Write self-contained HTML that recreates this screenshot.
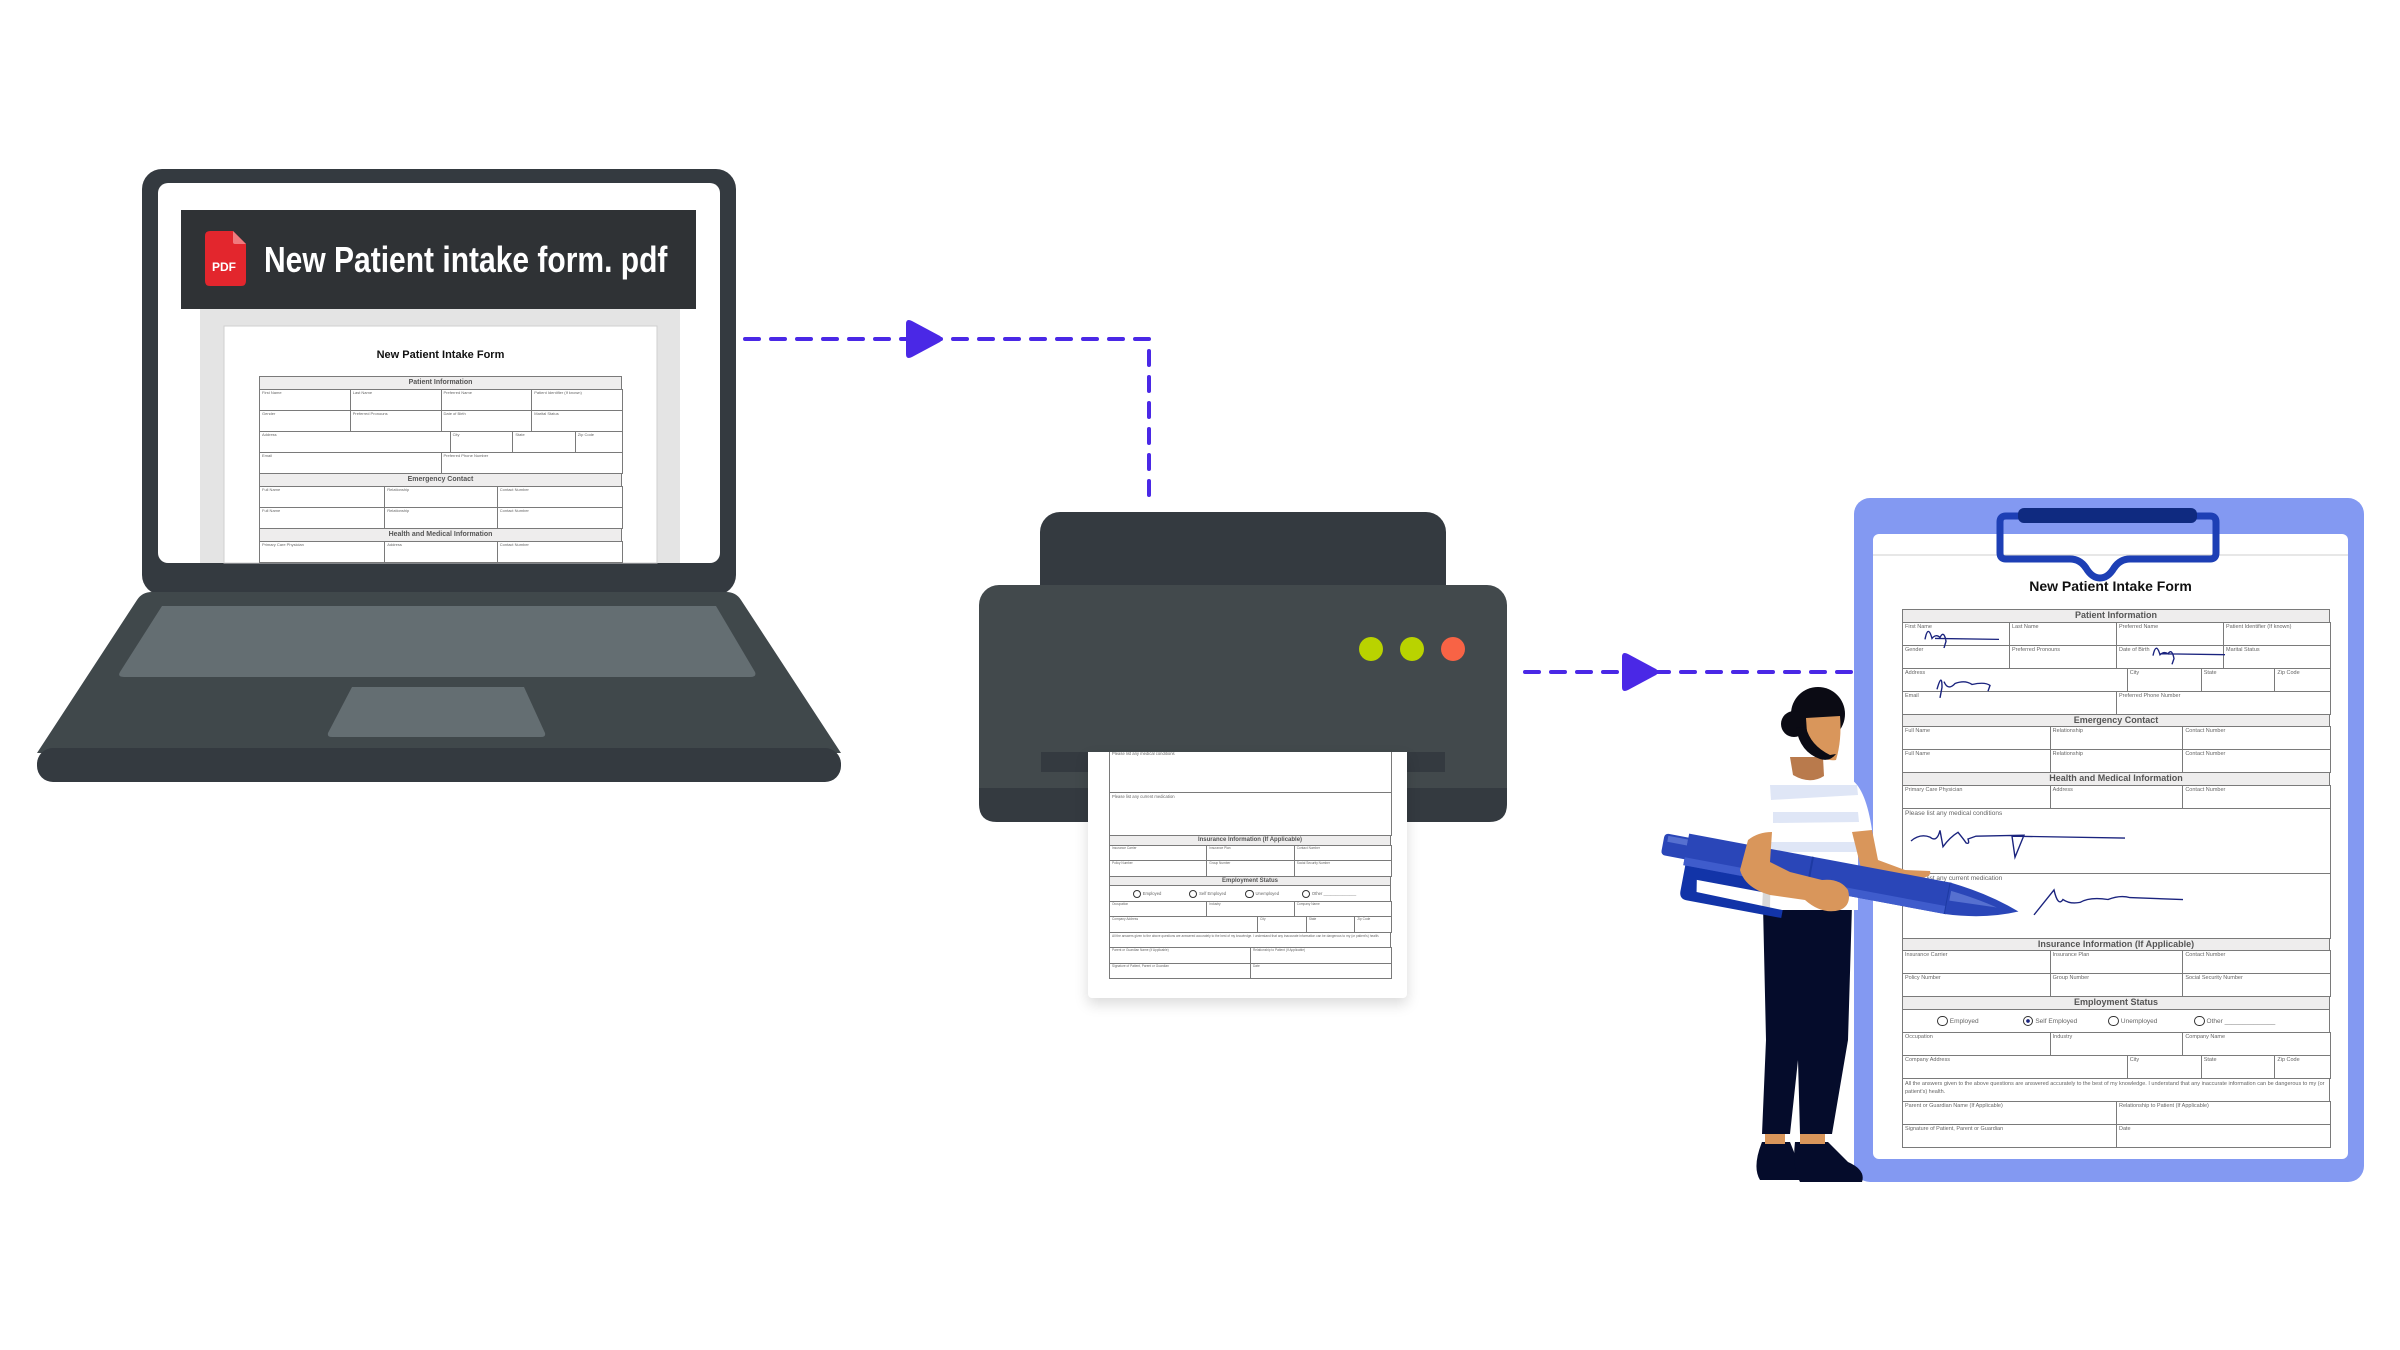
<!DOCTYPE html>
<html><head><meta charset="utf-8">
<style>
html,body{margin:0;padding:0;background:#fff;}
#root{position:relative;width:2400px;height:1350px;overflow:hidden;background:#fff;font-family:"Liberation Sans",sans-serif;}
.abs{position:absolute;}
.form{position:absolute;}
.cell{position:absolute;box-sizing:border-box;border:1px solid #7a7a7a;color:#666;overflow:hidden;white-space:nowrap;}
.hd{position:absolute;box-sizing:border-box;border:1px solid #7a7a7a;background:#eeeded;color:#555;font-weight:bold;text-align:center;overflow:hidden;white-space:nowrap;}
</style></head><body>
<div id="root">
<svg class="abs" style="left:0;top:0" width="2400" height="1350" viewBox="0 0 2400 1350">
  <!-- laptop lid -->
  <rect x="142" y="169" width="594" height="426" rx="20" fill="#343a40"/>
  <rect x="158" y="183" width="562" height="380" rx="10" fill="#ffffff"/>
  <rect x="200" y="309" width="480" height="254" fill="#e4e4e4"/>
  <rect x="224" y="326" width="433" height="237" fill="#ffffff" stroke="#cfcfcf"/>
  <!-- base -->
  <path d="M152 592 L726 592 Q736 592 741 600 L841 753 L37 753 L137 600 Q142 592 152 592Z" fill="#40484b"/>
  <rect x="37" y="748" width="804" height="34" rx="16" fill="#343a40"/>
  <path d="M162 606 L716 606 L755 672 Q757 677 750 677 L124 677 Q117 677 120 672Z" fill="#646e72"/>
  <path d="M352 687 L524 687 L545 733 Q546 737 541 737 L332 737 Q327 737 328 733Z" fill="#646e72"/>
  <!-- dashed connectors -->
  <g stroke="#4a28e6" stroke-width="4" fill="none" stroke-dasharray="14 12" stroke-linecap="round">
    <path d="M745 339 L1149 339 L1149 499"/>
    <path d="M1525 672 L1860 672"/>
  </g>
  <path d="M906 324 Q906 318 912 321 L940 336 Q944 339 940 342 L912 357 Q906 360 906 354Z" fill="#4a28e6"/>
  <path d="M1622 657 Q1622 651 1628 654 L1656 669 Q1660 672 1656 675 L1628 690 Q1622 693 1622 687Z" fill="#4a28e6"/>
  <!-- printer -->
  <rect x="1040" y="512" width="406" height="100" rx="20" fill="#343a40"/>
  <rect x="979" y="585" width="528" height="237" rx="20" fill="#42494c"/>
  <path d="M979 788 L1507 788 L1507 804 Q1507 822 1489 822 L997 822 Q979 822 979 804Z" fill="#343a40"/>
  <rect x="1041" y="752" width="404" height="20" fill="#343a40"/>
  <circle cx="1371" cy="649" r="12" fill="#b9d300"/>
  <circle cx="1412" cy="649" r="12" fill="#b9d300"/>
  <circle cx="1453" cy="649" r="12" fill="#f86345"/>
  <!-- clipboard -->
  <rect x="1854" y="498" width="510" height="684" rx="16" fill="#8399f2"/>
  <rect x="1873" y="534" width="475" height="625" rx="6" fill="#ffffff"/>
  <line x1="1873" y1="555" x2="2348" y2="555" stroke="#cfcfcf" stroke-width="1"/>
</svg>

<!-- laptop header -->
<div class="abs" style="left:181px;top:210px;width:515px;height:99px;background:#2f3235;"></div>
<svg class="abs" style="left:205px;top:231px" width="41" height="55" viewBox="0 0 41 55">
  <path d="M5 0 L28 0 L41 13 L41 50 Q41 55 36 55 L5 55 Q0 55 0 50 L0 5 Q0 0 5 0Z" fill="#e3262d"/>
  <path d="M28 0 L28 11 Q28 13 30 13 L41 13Z" fill="#f07a7e"/>
  <text x="19" y="40" font-family="Liberation Sans" font-weight="bold" font-size="12" fill="#fff" text-anchor="middle">PDF</text>
</svg>
<div class="abs" style="left:264px;top:241px;font-size:30px;font-weight:bold;color:#fff;white-space:nowrap;line-height:40px;transform:scale(1,1.2);transform-origin:0 50%;">New Patient intake form. pdf</div>

<!-- laptop form -->
<div class="abs" style="left:224px;top:326px;width:433px;height:237px;overflow:hidden;">
  <div class="abs" style="left:0;top:23px;width:433px;text-align:center;font-size:11px;font-weight:bold;color:#111;">New Patient Intake Form</div>
  <div id="f1" class="form" style="left:35px;top:50px;width:363px;"></div>
</div>

<!-- printer paper -->
<div class="abs" style="left:1088px;top:752px;width:319px;height:246px;background:#fff;border-radius:0 0 4px 4px;box-shadow:0 6px 14px rgba(0,0,0,0.15);overflow:hidden;">
  <div id="f2" class="form" style="left:21px;top:-140px;width:282px;"></div>
</div>

<!-- clipboard form -->
<div class="abs" style="left:1873px;top:578px;width:475px;text-align:center;font-size:14px;font-weight:bold;color:#111;">New Patient Intake Form</div>
<div id="f3" class="form" style="left:1902px;top:609px;width:428px;"></div>

<svg class="abs" style="left:0;top:0" width="2400" height="1350" viewBox="0 0 2400 1350">
  <!-- clip -->
  <path d="M2006 516 L2210 516 Q2216 516 2216 522 L2216 553 Q2216 559 2210 559 L2130 559 Q2120 559 2114 568 Q2108 578 2100 578 Q2092 578 2086 568 Q2080 559 2070 559 L2006 559 Q2000 559 2000 553 L2000 522 Q2000 516 2006 516Z" fill="none" stroke="#1d3fb5" stroke-width="7"/>
  <rect x="2018" y="508" width="179" height="15" rx="6" fill="#0f2a80"/>
  <!-- signatures -->
  <g fill="none" stroke="#1a237e" stroke-width="1.4" transform="translate(0,19.2) scale(1,0.96)">
    <path d="M1925 646 Q1928 630 1932 645 Q1936 640 1940 644 Q1944 636 1946 648 L1944 655 M1935 645 L1999 646"/>
    <path d="M2153 663 Q2156 648 2160 662 Q2164 658 2168 661 Q2172 655 2174 666 L2172 672 M2160 661 L2225 662"/>
    <path d="M1937 698 Q1942 680 1942 696 L1940 707 M1944 690 Q1948 700 1955 692 Q1965 688 1972 693 Q1985 690 1990 694 L1988 700"/>
    <path d="M1911 856 Q1920 848 1930 852 Q1937 858 1940 845 L1943 862 Q1950 852 1958 847 Q1965 856 1966 858 Q1970 860 1968 854 L1976 851 L2024 850 L2015 873 L2012 851 L2125 853"/>
    <path d="M2034 933 L2054 907 Q2058 925 2063 917 Q2070 922 2080 920 Q2090 914 2108 917 Q2120 912 2130 915 L2183 917"/>
  </g>
  <!-- person -->
  <path d="M1762 1142 L1790 1142 L1798 1162 Q1810 1170 1808 1180 L1760 1180 Q1752 1167 1762 1142Z" fill="#050c2b"/>
  <path d="M1795 1142 L1828 1142 L1848 1162 Q1866 1170 1862 1182 L1800 1182 Q1792 1167 1795 1142Z" fill="#050c2b"/>
  <rect x="1765" y="1130" width="20" height="14" fill="#d9965b"/>
  <rect x="1800" y="1130" width="25" height="14" fill="#d9965b"/>
  <path d="M1763 905 L1852 905 L1848 1040 L1832 1134 L1800 1134 L1798 1060 L1790 1134 L1762 1134 L1766 1040Z" fill="#050c2b"/>
  <path d="M1790 780 L1852 780 Q1866 790 1872 830 L1873 850 L1858 852 L1858 910 L1768 910 L1765 850 Q1765 800 1790 780Z" fill="#ffffff"/>
  <path d="M1770 785 L1857 785 L1858 795 L1771 800Z" fill="#dfe6f6"/>
  <path d="M1773 812 L1858 812 L1859 822 L1773 823Z" fill="#dfe6f6"/>
  <path d="M1771 842 L1858 842 L1858 852 L1770 852Z" fill="#dfe6f6"/>
  <path d="M1765 850 L1771 850 L1770 910 L1762 910Z" fill="#d8d8d8"/>
  <path d="M1790 757 L1823 757 L1824 776 Q1810 785 1793 775Z" fill="#b97a4c"/>
  <circle cx="1818" cy="714" r="27" fill="#0b0b14"/>
  <circle cx="1794" cy="724" r="13" fill="#0b0b14"/>
  <path d="M1806 718 L1840 716 Q1842 740 1836 760 Q1822 762 1808 748Z" fill="#d9965b"/>
  <path d="M1796 728 L1806 727 Q1810 745 1830 755 L1836 754 Q1830 762 1820 759 Q1800 752 1796 728Z" fill="#0b0b14"/>
  <path d="M1852 832 L1872 830 L1878 860 L1905 870 L1930 871 Q1932 877 1920 878 L1895 880 L1862 872Z" fill="#d9965b"/>
  <g transform="translate(1663,843) rotate(10.6)">
    <path d="M26 16 L26 44 Q26 52 34 52 L130 52 L130 44 L42 42 L40 30 L126 30 L126 18Z" fill="#1234a8"/>
    <rect x="0" y="-10" width="28" height="22" rx="4" fill="#2a46b8"/>
    <rect x="4" y="-8" width="20" height="6" fill="#5670d0"/>
    <path d="M24 -14 L290 -14 L290 18 L24 18Z" fill="#2a46b8"/>
    <path d="M24 10 L290 10 L290 18 L24 18Z" fill="#3f5ccc"/>
    <line x1="150" y1="-14" x2="150" y2="18" stroke="#1d3aa3" stroke-width="2"/>
    <line x1="290" y1="-14" x2="290" y2="18" stroke="#1d3aa3" stroke-width="2"/>
    <path d="M290 -14 Q330 -10 362 2 Q330 16 290 18Z" fill="#2a46b8"/>
    <path d="M292 -6 Q320 -3 340 2 L292 4Z" fill="#5670d0"/>
  </g>
  <path d="M1772 832 Q1758 832 1748 840 L1740 870 Q1745 888 1770 895 L1805 900 Q1822 915 1840 910 Q1852 905 1848 890 Q1840 878 1822 880 L1790 872 L1770 862Z" fill="#d9965b"/>
</svg>

<script>
(function(){
var C4=[25,25,25,25],C3=[34.5,31,34.5],A=[52.5,17.3,17.2,13],H=[50,50];
var rows=[
['h','Patient Information'],
['r',C4,['First Name','Last Name','Preferred Name','Patient Identifier (If known)']],
['r',C4,['Gender','Preferred Pronouns','Date of Birth','Marital Status']],
['r',A,['Address','City','State','Zip Code']],
['r',H,['Email','Preferred Phone Number']],
['h','Emergency Contact'],
['r',C3,['Full Name','Relationship','Contact Number']],
['r',C3,['Full Name','Relationship','Contact Number']],
['h','Health and Medical Information'],
['r',C3,['Primary Care Physician','Address','Contact Number']],
['t',[100],['Please list any medical conditions']],
['t',[100],['Please list any current medication']],
['h','Insurance Information (If Applicable)'],
['r',C3,['Insurance Carrier','Insurance Plan','Contact Number']],
['r',C3,['Policy Number','Group Number','Social Security Number']],
['h','Employment Status'],
['o'],
['r',C3,['Occupation','Industry','Company Name']],
['r',A,['Company Address','City','State','Zip Code']],
['d'],
['r',H,['Parent or Guardian Name (If Applicable)','Relationship to Patient (If Applicable)']],
['r',H,['Signature of Patient, Parent or Guardian','Date']]
];
function build(id,p){
  var el=document.getElementById(id),W=parseFloat(el.style.width),y=0,h='';
  rows.forEach(function(r){
    var t=r[0];
    if(t=='h'){h+='<div class="hd" style="left:0;top:'+y+'px;width:'+W+'px;height:'+(p.hh+1)+'px;font-size:'+p.hf+'px;line-height:'+(p.hh-1)+'px">'+r[1]+'</div>';y+=p.hh;return;}
    if(t=='o'){var s=p.lf+1;var items=['Employed','Self Employed','Unemployed','Other ______________'];
      h+='<div class="cell" style="left:0;top:'+y+'px;width:'+W+'px;height:'+(p.rh+1)+'px;font-size:'+s+'px;line-height:'+p.rh+'px;padding-left:'+(W*0.08)+'px">';
      items.forEach(function(it,i){h+='<span style="display:inline-block;width:'+(W*0.2)+'px"><span style="display:inline-block;width:'+(s+2)+'px;height:'+(s+2)+'px;border:1px solid #333;border-radius:50%;vertical-align:middle;margin-right:2px'+(p.chk&&i==1?';background:radial-gradient(#1a237e 30%,#fff 35%)':'')+'"></span>'+it+'</span>';});
      h+='</div>';y+=p.rh;return;}
    if(t=='d'){h+='<div class="cell" style="left:0;top:'+y+'px;width:'+W+'px;height:'+(p.rh+1)+'px;font-size:'+p.lf+'px;line-height:1.5;padding:1px 2px;white-space:normal">All the answers given to the above questions are answered accurately to the best of my knowledge. I understand that any inaccurate information can be dangerous to my (or patient\'s) health.</div>';y+=p.rh;return;}
    var hh=t=='t'?p.th:p.rh,x=0;
    r[1].forEach(function(w,i){var ww=W*w/100;
      h+='<div class="cell" style="left:'+x+'px;top:'+y+'px;width:'+(ww+1)+'px;height:'+(hh+1)+'px;font-size:'+(t=='t'?p.lf+1:p.lf)+'px;padding:1px 2px;line-height:1.2">'+r[2][i]+'</div>';x+=ww;});
    y+=hh;
  });
  el.innerHTML=h;
}
build('f1',{hh:13,rh:21,th:50,hf:7,lf:4});
build('f2',{hh:9.5,rh:15.5,th:43,hf:6,lf:3.2});
build('f3',{hh:12.5,rh:23,th:65,hf:9,lf:5.5,chk:1});
})();
</script>
</div>
</body></html>
